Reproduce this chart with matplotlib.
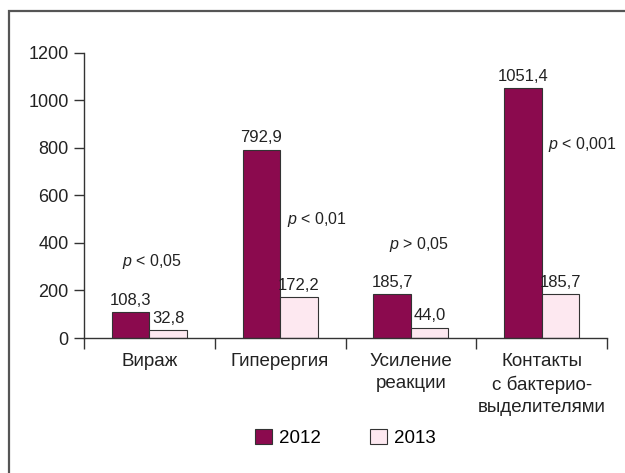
import numpy as np
import matplotlib
matplotlib.use("Agg")
import matplotlib.pyplot as plt
from matplotlib.patches import Rectangle, Patch

plt.rcParams["font.family"] = ["Liberation Sans", "DejaVu Sans"]
plt.rcParams["mathtext.fontset"] = "custom"
plt.rcParams["mathtext.it"] = "Liberation Sans:italic"
plt.rcParams["mathtext.rm"] = "Liberation Sans"

categories = ["Вираж", "Гиперергия", "Усиление\nреакции", "Контакты\nс бактерио-\nвыделителями"]
values_2012 = [108.3, 792.9, 185.7, 1051.4]
values_2013 = [32.8, 172.2, 44.0, 185.7]
labels_2012 = ["108,3", "792,9", "185,7", "1051,4"]
labels_2013 = ["32,8", "172,2", "44,0", "185,7"]
p_texts = ["< 0,05", "< 0,01", "> 0,05", "< 0,001"]
p_pos = [(0.02, 320, "center"), (1.05, 497, "left"), (2.06, 392, "center"), (3.05, 813, "left")]
yticks = [0, 200, 400, 600, 800, 1000, 1200]

c2012 = "#8B0A4E"
c2013 = "#FDE8F0"
edge = "#333333"

fig = plt.figure(figsize=(6.25, 4.73), dpi=100)
ax = fig.add_axes([0.1344, 0.2854, 0.8368, 0.6027])

# outer frame, only left and top edges fall inside the picture
fig.patches.append(Rectangle((9 / 625, -0.2), 2.0, 1.2 - 11 / 473, transform=fig.transFigure,
                             fill=False, edgecolor="#555555", linewidth=1.6, clip_on=False))

x = np.arange(len(categories))
w = 0.287
ax.bar(x - w / 2, values_2012, w, color=c2012, edgecolor=edge, linewidth=0.8, label="2012")
ax.bar(x + w / 2, values_2013, w, color=c2013, edgecolor=edge, linewidth=0.8, label="2013")

for i in range(len(categories)):
    ax.text(x[i] - w / 2, values_2012[i] + 18, labels_2012[i], ha="center", va="bottom",
            fontsize=12, color="#222222")
    ax.text(x[i] + w / 2, values_2013[i] + 18, labels_2013[i], ha="center", va="bottom",
            fontsize=12, color="#222222")

for (px, py, ha), t in zip(p_pos, p_texts):
    ax.text(px, py, r"$\mathit{p}$ " + t, ha=ha, va="center", fontsize=11.5, color="#222222")

ax.set_xlim(-0.5, len(categories) - 0.5)
ax.set_ylim(0, 1200)
ax.set_yticks(yticks)
ax.set_yticklabels([str(v) for v in yticks], fontsize=13, color="#222222")
ax.tick_params(axis="y", length=7, width=1, color=edge, pad=4)

ax.set_xticks(x)
ax.set_xticklabels(categories, fontsize=13.5, color="#222222", linespacing=1.38, va="top")
ax.tick_params(axis="x", which="major", length=0, pad=11)
ax.set_xticks(np.arange(-0.5, len(categories)), minor=True)
ax.tick_params(axis="x", which="minor", length=8, width=1, color=edge)

for s in ["top", "right"]:
    ax.spines[s].set_visible(False)
for s in ["left", "bottom"]:
    ax.spines[s].set_color(edge)
    ax.spines[s].set_linewidth(1)

handles = [Patch(facecolor=c2012, edgecolor=edge, linewidth=0.8),
           Patch(facecolor=c2013, edgecolor=edge, linewidth=0.8)]
fig.legend(handles, ["2012", "2013"], loc="center", bbox_to_anchor=(0.553, 0.074), ncol=2,
           frameon=False, fontsize=13.5, handlelength=0.9, handleheight=0.9, columnspacing=2.6,
           handletextpad=0.4)

fig.savefig("out.png", dpi=100, facecolor="white")
